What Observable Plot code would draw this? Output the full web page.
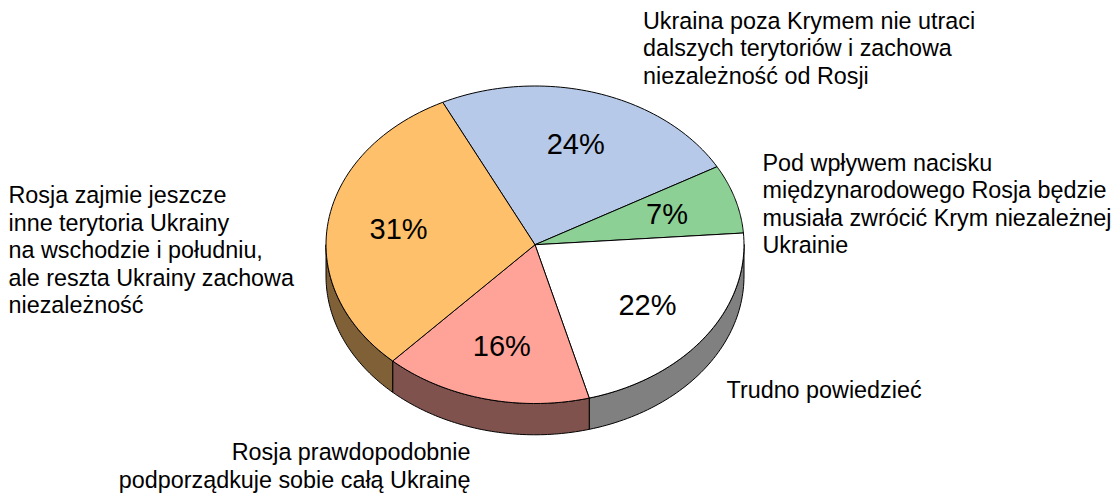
<!DOCTYPE html>
<html>
<head>
<meta charset="utf-8">
<style>html,body{margin:0;padding:0;background:#fff}svg{display:block}</style>
<script src="https://cdn.jsdelivr.net/npm/d3@7"></script>
<script src="https://cdn.jsdelivr.net/npm/@observablehq/plot@0.6"></script>
</head>
<body>
<div id="chart"></div>
<script>
const categories = [
  "Ukraina poza Krymem nie utraci\ndalszych terytoriów i zachowa\nniezależność od Rosji",
  "Pod wpływem nacisku\nmiędzynarodowego Rosja będzie\nmusiała zwrócić Krym niezależnej\nUkrainie",
  "Trudno powiedzieć",
  "Rosja prawdopodobnie\npodporządkuje sobie całą Ukrainę",
  "Rosja zajmie jeszcze\ninne terytoria Ukrainy\nna wschodzie i południu,\nale reszta Ukrainy zachowa\nniezależność"
];
const shares = [24.1, 7, 22, 16.1, 30.8];
const topColors = ["#b7c9e8", "#8dd095", "#ffffff", "#ffa399", "#ffc06b"];

const startAngle = 333.8, depth = 0.197, labelRadius = 0.66, fontSize = 23.35, pctSize = 29;
const rad = d => d * Math.PI / 180;
const px = a => Math.sin(rad(a));
const py = a => -Math.cos(rad(a));

let acc = startAngle;
const slices = shares.map((v, i) => {
  const a0 = acc, a1 = acc + v * 3.6; acc = a1;
  return {i, v, a0, a1, mid: (a0 + a1) / 2};
});
const arc = (a0, a1) => d3.range(0, 61).map(k => a0 + (a1 - a0) * k / 60);

const tops = slices.flatMap(s => {
  const pts = [{a: null}, ...arc(s.a0, s.a1).map(a => ({a})), {a: null}];
  return pts.map(p => ({
    key: "top" + s.i,
    x: p.a === null ? 0 : px(p.a),
    y: p.a === null ? 0 : py(p.a)
  }));
});
const walls = slices.flatMap(s => {
  // only the front half of the rim (90°..270°) is visible
  const ranges = [[s.a0, s.a1], [s.a0 - 360, s.a1 - 360]];
  return ranges.flatMap(([a, b]) => {
    const lo = Math.max(a, 90), hi = Math.min(b, 270);
    if (hi <= lo) return [];
    const rim = arc(lo, hi);
    return [
      ...rim.map(t => ({key: "wall" + s.i, x: px(t), y: py(t)})),
      ...rim.slice().reverse().map(t => ({key: "wall" + s.i, x: px(t), y: py(t) + depth})),
      {key: "wall" + s.i, x: px(lo), y: py(lo)}
    ];
  });
});
const half = c => { const r = d3.rgb(c); return d3.rgb(r.r / 2, r.g / 2, r.b / 2).formatHex(); };

const colorDomain = [...slices.map(s => "top" + s.i), ...slices.map(s => "wall" + s.i)];
const colorRange = [...topColors, ...topColors.map(half)];
const font = "'Liberation Sans', Arial, sans-serif";

const outer = [
  {i: 0, dx: 642.5, dy: 8.5,   anchor: "start"},
  {i: 1, dx: 762, dy: 150.5, anchor: "start"},
  {i: 2, dx: 726, dy: 378, anchor: "start"},
  {i: 3, dx: 470, dy: 440, anchor: "end"},
  {i: 4, dx: 8,   dy: 183, anchor: "start"}
];

const chart = Plot.plot({
  width: 1117, height: 494, margin: 0,
  style: {background: "#fff", fontFamily: font},
  x: {domain: [-1, 1], range: [325.5, 743.5], axis: null},
  y: {domain: [-1, 1], range: [85.5, 403], axis: null},
  color: {type: "ordinal", domain: colorDomain, range: colorRange},
  marks: [
    Plot.line(walls, {x: "x", y: "y", z: "key", fill: "key", stroke: "#000", strokeWidth: 1, strokeLinejoin: "round"}),
    Plot.line(tops, {x: "x", y: "y", z: "key", fill: "key", stroke: "#000", strokeWidth: 1, strokeLinejoin: "round"}),
    Plot.text(slices, {
      x: s => labelRadius * px(s.mid), y: s => labelRadius * py(s.mid),
      text: s => Math.round(s.v) + "%", fontSize: pctSize, fill: "#000"
    }),
    ...outer.map(o => Plot.text([categories[o.i]], {
      frameAnchor: "top-left", dx: o.dx, dy: o.dy, text: d => d,
      textAnchor: o.anchor, lineAnchor: "top", lineHeight: 1.18, fontSize, fill: "#000"
    }))
  ]
});
document.getElementById("chart").appendChild(chart);
</script>
</body>
</html>
